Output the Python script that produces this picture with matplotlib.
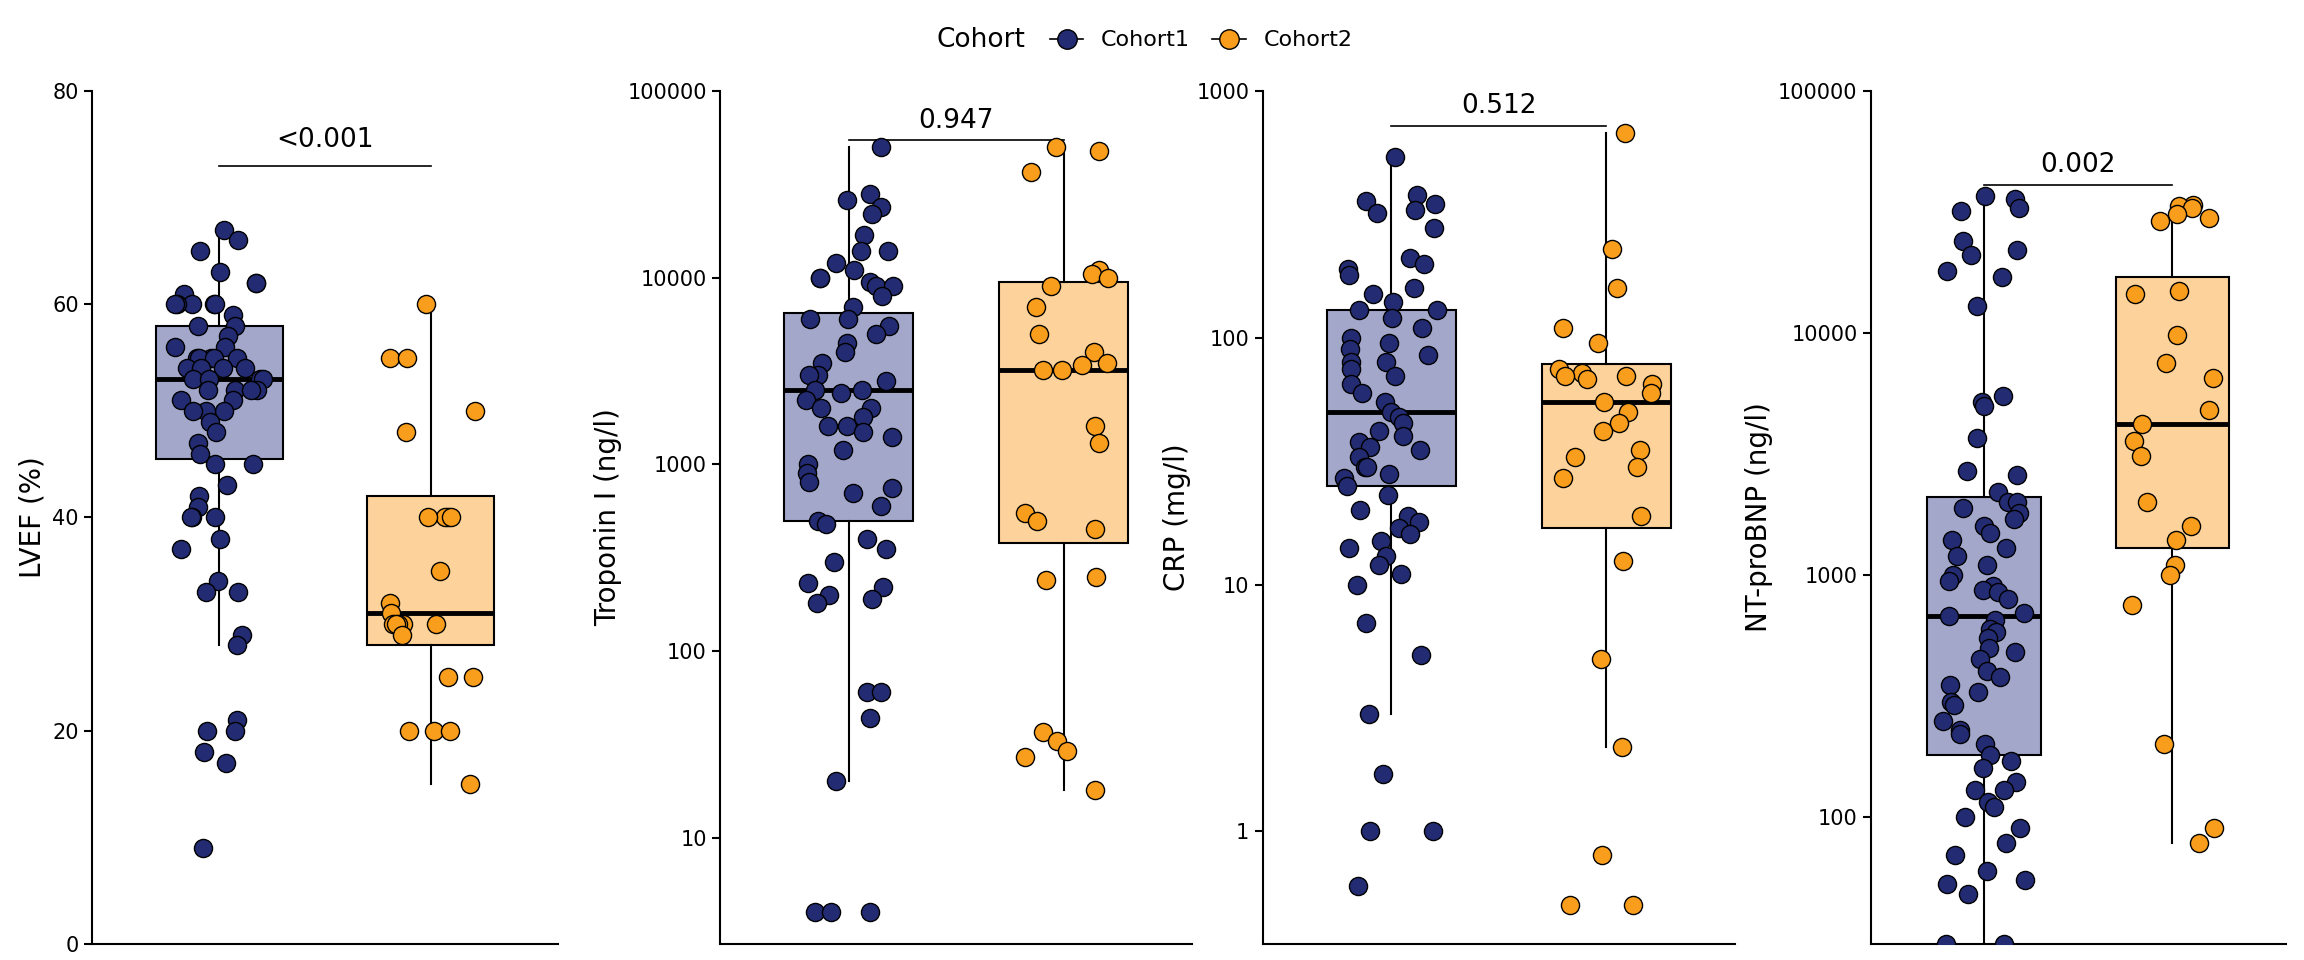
import matplotlib
matplotlib.use("Agg")
import matplotlib.pyplot as plt
import numpy as np
from matplotlib.lines import Line2D
from matplotlib.ticker import FixedLocator, NullLocator, FixedFormatter

ylabels = ["LVEF (%)", "Troponin I (ng/l)", "CRP (mg/l)", "NT-proBNP (ng/l)"]
pvals = ["<0.001", "0.947", "0.512", "0.002"]
bracket_y = [73, 55000, 720, 41000]

lvef_c1 = [67,66,65,63,62,62,61,60,60,60,60,60,59,58,58,57,56,56,55,55,55,55,55,54,54,54,54,53,53,53,53,52,52,52,52,51,51,50,50,50,49,48,47,46,45,45,43,42,41,40,40,40,38,37,34,33,33,29,28,21,20,20,18,17,9]
lvef_c2 = [60,55,55,50,48,40,40,40,40,35,32,31,30,30,30,30,30,29,25,25,20,20,20,15]
trop_c1 = [50000,28000,26000,24000,22000,17000,14000,14000,12000,11000,10000,10000,9500,9000,9000,8000,7000,6000,6000,5500,5000,4500,4000,3500,3000,3000,2800,2500,2500,2400,2200,2000,2000,1800,1600,1600,1500,1400,1200,1000,900,800,750,700,600,500,480,400,350,300,230,220,200,190,180,60,60,44,20,4,4,4]
trop_c2 = [50000,48000,37000,11000,10500,10000,9000,7000,5000,4000,3500,3400,3200,3200,1600,1300,550,500,450,250,240,37,33,29,27,18]
crp_c1 = [540,380,360,350,330,320,280,210,200,190,180,160,150,140,130,130,120,110,100,95,90,85,80,80,75,70,65,60,55,50,48,45,42,40,38,36,35,33,30,30,28,27,25,23,20,19,18,17,16,15,14,13,12,11,10,7,5.2,3,1.7,1,1,0.6]
crp_c2 = [680,230,160,110,95,75,72,70,70,68,65,60,55,50,45,42,35,33,30,27,19,12.5,5,2.2,0.8,0.5,0.5]
bnp_c1 = [37000,36000,33000,32000,24000,22000,21000,18000,17000,13000,5500,5200,5000,3700,2700,2600,2200,2000,2000,1900,1800,1700,1600,1500,1400,1300,1200,1100,1000,950,900,870,850,800,700,680,650,600,580,550,500,480,450,400,380,350,330,300,290,250,230,220,200,180,170,160,140,130,130,115,110,100,90,78,70,60,55,53,48,30,30]
bnp_c2 = [34000,33500,33000,31000,30000,29000,15000,14500,9800,7500,6500,4800,4200,3600,3100,2000,1600,1400,1100,1000,750,200,90,78]

# box stats: (whislo, q1, med, q3, whishi)
box_stats = [
    [(28, 45.5, 53, 58, 67), (15, 28, 31, 42, 60)],
    [(20, 500, 2500, 6500, 50000), (18, 380, 3200, 9500, 50000)],
    [(3, 25, 50, 130, 540), (2.2, 17, 55, 78, 680)],
    [(30, 180, 680, 2100, 37000), (78, 1300, 4200, 17000, 34000)],
]
data = [(lvef_c1, lvef_c2), (trop_c1, trop_c2), (crp_c1, crp_c2), (bnp_c1, bnp_c2)]
ylims = [(0, 80), (2.7, 100000), (0.35, 1000), (30, 100000)]
logs = [False, True, True, True]
ticks = [[0, 20, 40, 60, 80], [10, 100, 1000, 10000, 100000], [1, 10, 100, 1000], [100, 1000, 10000, 100000]]
positions = [(0.040, 0.202), (0.3125, 0.205), (0.548, 0.205), (0.812, 0.180)]

pt_cols = ["#232C73", "#F99D1C"]
box_cols = ["#A3A8CB", "#FDD39B"]

fig = plt.figure(figsize=(23.04, 9.6), dpi=100)
rng = np.random.RandomState(3)
for i in range(4):
    ax = fig.add_axes([positions[i][0], 0.017, positions[i][1], 0.888])
    if logs[i]:
        ax.set_yscale("log")
    stats = []
    for j in range(2):
        lo, q1, med, q3, hi = box_stats[i][j]
        stats.append(dict(whislo=lo, q1=q1, med=med, q3=q3, whishi=hi, fliers=[]))
    bp = ax.bxp(stats, positions=[1, 2], widths=0.6, patch_artist=True, showcaps=False,
                medianprops=dict(color="black", lw=3.5),
                whiskerprops=dict(color="black", lw=1.5),
                boxprops=dict(lw=1.5))
    for j, b in enumerate(bp["boxes"]):
        b.set_facecolor(box_cols[j]); b.set_edgecolor("black")
    for j in range(2):
        v = np.array(data[i][j], float)
        x = (j + 1) + rng.uniform(-0.22, 0.22, len(v))
        ax.scatter(x, v, s=170, c=pt_cols[j], edgecolors="black", linewidths=1.0, zorder=3)
    ax.plot([1, 2], [bracket_y[i]] * 2, color="black", lw=1.2)
    yt = bracket_y[i] + 1.2 if not logs[i] else bracket_y[i] * 1.07
    ax.text(1.5, yt, pvals[i], ha="center", va="bottom", fontsize=19)
    ax.set_xlim(0.4, 2.6)
    ax.set_ylim(*ylims[i])
    ax.yaxis.set_major_locator(FixedLocator(ticks[i]))
    ax.yaxis.set_major_formatter(FixedFormatter([str(t) for t in ticks[i]]))
    ax.yaxis.set_minor_locator(NullLocator())
    ax.set_xticks([])
    ax.spines["top"].set_visible(False)
    ax.spines["right"].set_visible(False)
    ax.spines["left"].set_linewidth(1.5)
    ax.spines["bottom"].set_linewidth(1.5)
    ax.tick_params(axis="y", labelsize=15, width=1.5, length=6)
    ax.set_ylabel(ylabels[i], fontsize=20)

handles = [Line2D([], [], marker="o", color="black", markerfacecolor=pt_cols[j], markeredgecolor="black",
                  markersize=14, lw=1.2) for j in range(2)]
fig.text(0.445, 0.958, "Cohort", fontsize=19, ha="right", va="center")
fig.legend(handles, ["Cohort1", "Cohort2"], loc="center left", bbox_to_anchor=(0.447, 0.958),
           ncol=2, frameon=False, fontsize=16, handlelength=1.5, columnspacing=1.0)
fig.savefig("out.png", dpi=100)
